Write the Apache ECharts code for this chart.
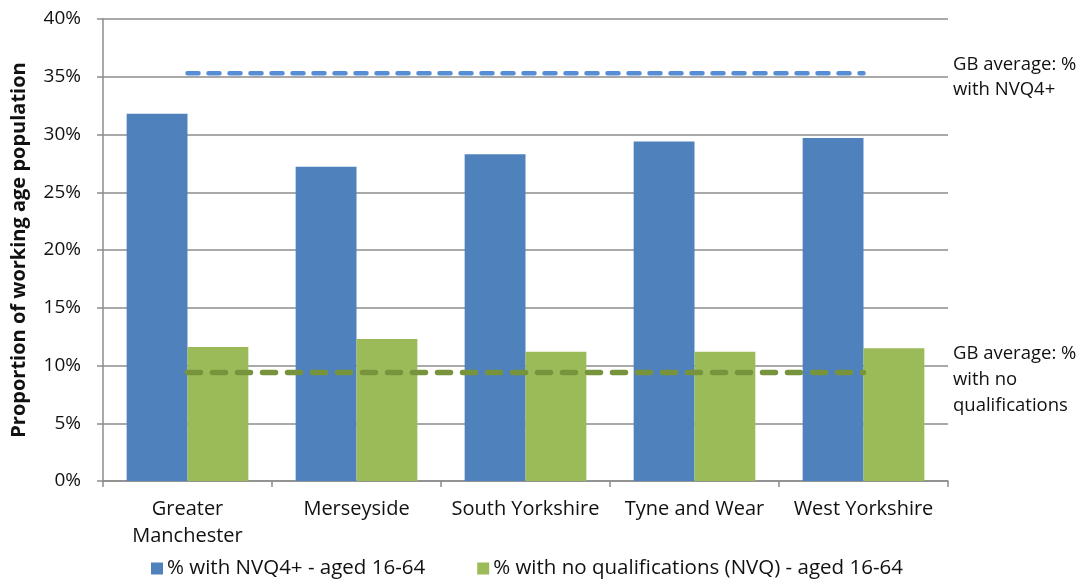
<!DOCTYPE html>
<html>
<head>
<meta charset="utf-8">
<script src="https://cdn.jsdelivr.net/npm/echarts@6/dist/echarts.min.js"></script>
<style>
  html, body { margin: 0; padding: 0; background: #fff; }
  #chart { width: 1087px; height: 580px; }
</style>
</head>
<body>
<div id="chart"></div>
<script>
// Working-age qualification levels by metropolitan county
const categories = ['Greater Manchester', 'Merseyside', 'South Yorkshire', 'Tyne and Wear', 'West Yorkshire'];
const nvq4Plus = [31.8, 27.2, 28.3, 29.4, 29.7];
const noQualifications = [11.6, 12.3, 11.2, 11.2, 11.5];
// GB averages, drawn as flat dashed reference lines across the categories
const gbNvq4Plus = [35.3, 35.3, 35.3, 35.3, 35.3];
const gbNoQualifications = [9.4, 9.4, 9.4, 9.4, 9.4];
const yTicks = { min: 0, max: 40, interval: 5 };

const FONT = '"Open Sans"';
const TEXT = '#111111';
const GRID = '#8c8c8c';

const chart = echarts.init(document.getElementById('chart'), null, { renderer: 'canvas' });

chart.setOption({
  animation: false,
  textStyle: { fontFamily: FONT, color: TEXT },
  grid: { left: 103, right: 139, top: 19, bottom: 99, containLabel: false, outerBoundsMode: 'none' },
  legend: {
    data: ['% with NVQ4+ - aged 16-64', '% with no qualifications (NVQ) - aged 16-64'],
    left: 146,
    top: 553,
    itemWidth: 12,
    itemHeight: 12,
    itemGap: 52,
    icon: 'rect',
    textStyle: { fontFamily: FONT, fontSize: 20.5, color: TEXT, padding: [0, 0, 0, -1] }
  },
  xAxis: {
    type: 'category',
    data: categories,
    boundaryGap: true,
    axisLine: { lineStyle: { color: GRID, width: 1.5 } },
    axisTick: { show: true, interval: 0, length: 6, lineStyle: { color: GRID, width: 1.5 } },
    axisLabel: {
      interval: 0,
      fontFamily: FONT,
      fontSize: 20,
      color: TEXT,
      margin: 15,
      lineHeight: 27,
      formatter: v => v === 'Greater Manchester' ? 'Greater\nManchester' : v
    }
  },
  yAxis: {
    type: 'value',
    min: yTicks.min,
    max: yTicks.max,
    interval: yTicks.interval,
    name: 'Proportion of working age population',
    nameLocation: 'middle',
    nameGap: 74,
    nameTextStyle: { fontFamily: FONT, fontSize: 20, fontWeight: 'bold', color: TEXT },
    axisLine: { show: true, lineStyle: { color: GRID, width: 1.5 } },
    axisTick: { show: true, length: 6, lineStyle: { color: GRID, width: 1.5 } },
    axisLabel: { fontFamily: FONT, fontSize: 19, color: TEXT, margin: 22, formatter: '{value}%' },
    splitLine: { show: true, lineStyle: { color: GRID, width: 1.5 } }
  },
  series: [
    {
      name: '% with NVQ4+ - aged 16-64',
      type: 'bar',
      data: nvq4Plus,
      barGap: '0%',
      barCategoryGap: '28%',
      itemStyle: { color: '#4F81BD' }
    },
    {
      name: '% with no qualifications (NVQ) - aged 16-64',
      type: 'bar',
      data: noQualifications,
      barGap: '0%',
      barCategoryGap: '28%',
      itemStyle: { color: '#9BBB59' }
    },
    {
      name: 'GB average: % with NVQ4+',
      type: 'line',
      data: gbNvq4Plus,
      symbol: 'none',
      z: 5,
      lineStyle: { color: '#558ED5', width: 4.5, type: [11, 10], cap: 'round' }
    },
    {
      name: 'GB average: % with no qualifications',
      type: 'line',
      data: gbNoQualifications,
      symbol: 'none',
      z: 5,
      lineStyle: { color: '#77933C', width: 5.5, type: [13, 12], cap: 'round' }
    }
  ],
  graphic: [
    {
      type: 'text',
      left: 953,
      top: 52,
      style: { text: 'GB average: %\nwith NVQ4+', fontFamily: FONT, fontSize: 18.5, lineHeight: 25, fill: TEXT }
    },
    {
      type: 'text',
      left: 953,
      top: 341,
      style: { text: 'GB average: %\nwith no\nqualifications', fontFamily: FONT, fontSize: 18.5, lineHeight: 26, fill: TEXT }
    }
  ]
});
</script>
</body>
</html>
